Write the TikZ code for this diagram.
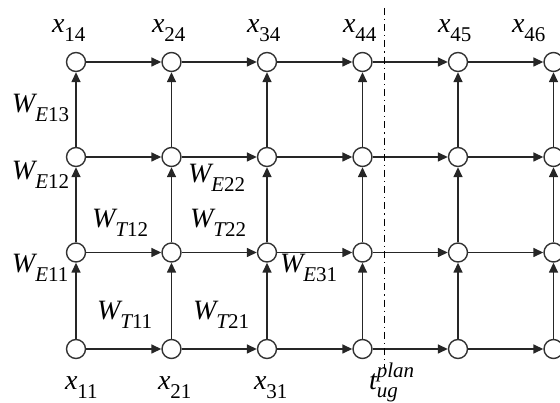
\documentclass[tikz,border=0pt]{standalone}
\usepackage{fontspec}
\setmainfont{Liberation Serif}
\usetikzlibrary{arrows.meta}
\newcommand\mainsz{\fontsize{28}{28}\selectfont}
\newcommand\subsz{\fontsize{21}{21}\selectfont}
\newcommand\lblsub[2]{{\mainsz\itshape #1}\raisebox{-9pt}{\subsz #2}}
\tikzset{
  dot/.style={circle, draw=black!80, line width=1.4pt, fill=white, minimum size=19pt, inner sep=0pt},
  arr/.style={draw=black!85, line width=1.5pt, -{Triangle[length=10pt,width=9pt]}},
  lab/.style={anchor=base west, inner sep=0pt, outer sep=0pt},
  divider/.style={draw=black, line width=1pt, dash pattern=on 7pt off 4pt on 1.2pt off 4pt}
}
\begin{document}
\begin{tikzpicture}[x=1pt,y=1pt]
\useasboundingbox (0,0) rectangle (560,-403);
\clip (0,0) rectangle (560,-403);
% nodes: c<col><row>, row 1 at bottom
\foreach \i/\x in {1/76,2/171.5,3/267,4/362.5,5/458,6/553.5}
  \foreach \j/\y in {1/349,2/252.5,3/157,4/62}
    \node[dot] (c\i\j) at (\x,-\y) {};
% horizontal arrows
\foreach \i/\n in {1/2,2/3,3/4,4/5,5/6}
  \foreach \j in {1,2,3,4}
    \draw[arr] (c\i\j) -- (c\n\j);
% vertical arrows
\foreach \i in {1,2,3,4,5,6}
  \foreach \j/\k in {1/2,2/3,3/4}
    \draw[arr] (c\i\j) -- (c\i\k);
% divider
\coordinate (dtop) at (384,-8);
\coordinate (dbot) at (384,-368);
\draw[divider] (dtop) -- (dbot);
% top labels
\node[lab] (l14) at (52,-33) {\lblsub{x}{14}};
\node[lab] (l24) at (152,-33) {\lblsub{x}{24}};
\node[lab] (l34) at (247,-33) {\lblsub{x}{34}};
\node[lab] (l44) at (343,-33) {\lblsub{x}{44}};
\node[lab] (l45) at (438,-33) {\lblsub{x}{45}};
\node[lab] (l46) at (512,-33) {\lblsub{x}{46}};
% bottom labels
\node[lab] (l11) at (65,-390) {\lblsub{x}{11}};
\node[lab] (l21) at (158,-390) {\lblsub{x}{21}};
\node[lab] (l31) at (254,-390) {\lblsub{x}{31}};
\node[lab] (ltug) at (369,-390) {{\mainsz\itshape t}\rlap{\raisebox{12pt}{\subsz\itshape plan}}\raisebox{-8pt}{\subsz\itshape ug}};
% W labels
\node[lab] (we13) at (12,-113) {\lblsub{W}{{\itshape E}13}};
\node[lab] (we12) at (12,-180) {\lblsub{W}{{\itshape E}12}};
\node[lab] (we11) at (12,-273) {\lblsub{W}{{\itshape E}11}};
\node[lab] (we22) at (188,-183) {\lblsub{W}{{\itshape E}22}};
\node[lab] (wt12) at (92,-228) {\lblsub{W}{{\itshape T}12}};
\node[lab] (wt22) at (190,-228) {\lblsub{W}{{\itshape T}22}};
\node[lab] (wt11) at (97,-320) {\lblsub{W}{{\itshape T}11}};
\node[lab] (wt21) at (193,-320) {\lblsub{W}{{\itshape T}21}};
\node[lab] (we31) at (280,-273) {\lblsub{W}{{\itshape E}31}};
\end{tikzpicture}
\end{document}
